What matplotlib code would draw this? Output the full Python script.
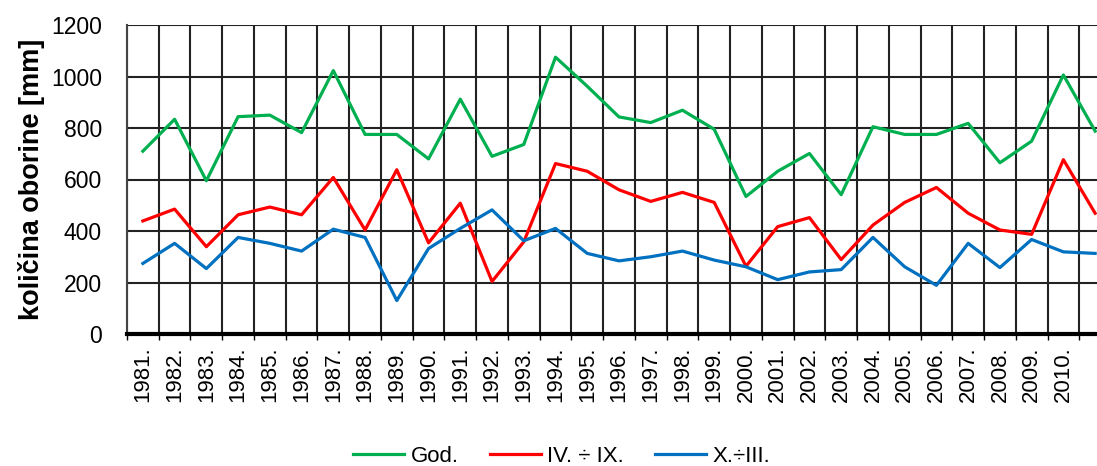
import numpy as np
import matplotlib
matplotlib.use('Agg')
import matplotlib.pyplot as plt

# godine 1981-2011 (zadnja kategorija je odrezana na desnom rubu)
years = list(range(1981, 2012))
year_labels = [str(y) + '.' for y in years[:-1]] + ['']

god = [710, 834, 595, 844, 850, 782, 1023, 775, 775, 680,
       912, 690, 736, 1075, 962, 843, 821, 869, 795, 534,
       632, 701, 541, 805, 775, 775, 818, 665, 749, 1006, 788]
ljeto = [439, 485, 339, 463, 493, 463, 608, 404, 638, 354,
         508, 204, 358, 662, 632, 560, 515, 550, 511, 263,
         417, 452, 289, 423, 511, 569, 469, 404, 387, 677, 469]
zima = [274, 352, 254, 375, 352, 322, 407, 375, 130, 332,
        410, 482, 362, 410, 313, 284, 300, 322, 287, 261,
        211, 241, 250, 375, 261, 189, 352, 258, 367, 319, 313]

plt.rcParams['font.family'] = ['Liberation Sans', 'DejaVu Sans']

fig = plt.figure(figsize=(10.97, 4.66), dpi=100)
# desni rub osi ide izvan slike kao na originalu
ax = fig.add_axes([127/1097, 132/466, 984/1097, 309/466])

x = np.arange(len(years))
ax.plot(x, god, color='#00B050', lw=2.3, label='God.')
ax.plot(x, ljeto, color='#FF0000', lw=2.3, label='IV. ÷ IX.')
ax.plot(x, zima, color='#0070C0', lw=2.3, label='X.÷III.')

ax.set_xlim(-0.5, len(years) - 0.5)
ax.set_ylim(0, 1200)
ax.set_yticks(range(0, 1201, 200))
ax.tick_params(axis='y', labelsize=16.5, length=0, pad=18)

ax.set_xticks(x)
ax.set_xticklabels(year_labels, rotation=90, fontsize=16)
ax.tick_params(axis='x', length=0, pad=9)
ax.set_xticks(np.arange(-0.5, len(years), 1), minor=True)
ax.tick_params(axis='x', which='minor', length=4, width=1)

ax.grid(True, which='minor', axis='x', color='#222222', lw=1.5)
ax.grid(True, which='major', axis='y', color='#222222', lw=1.5)
ax.set_axisbelow(True)

for s in ['top', 'right']:
    ax.spines[s].set_visible(False)
ax.spines['left'].set_color('#444444')
ax.spines['left'].set_linewidth(1.5)
ax.spines['bottom'].set_linewidth(3)

ax.set_ylabel('količina oborine [mm]', fontsize=19.5, fontweight='bold', labelpad=4)

fig.legend(loc='lower center', bbox_to_anchor=(0.512, -0.045), ncol=3, frameon=False,
           fontsize=16, handlelength=2.3, handletextpad=0.3, columnspacing=1.4)

fig.savefig('out.png', dpi=100)
